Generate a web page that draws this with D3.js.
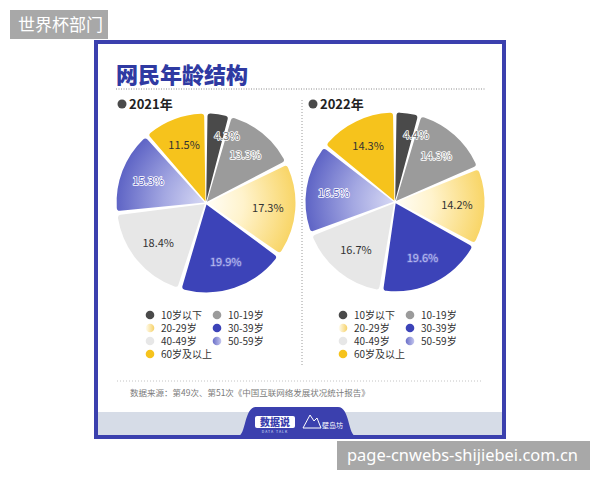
<!DOCTYPE html>
<html>
<head>
<meta charset="utf-8">
<script src="https://cdn.jsdelivr.net/npm/d3@7"></script>
<style>
  body { margin: 0; background: #fff; }
  svg { display: block; font-family: "Noto Sans CJK SC", "Noto Sans", sans-serif; }
</style>
</head>
<body>
<div id="chart"></div>
<script>
// age structure of netizens, 2021 vs 2022
const ageGroups = ["10岁以下", "10-19岁", "20-29岁", "30-39岁", "40-49岁", "50-59岁", "60岁及以上"];
const share2021 = [4.3, 13.3, 17.3, 19.9, 18.4, 15.3, 11.5];
const share2022 = [4.4, 14.3, 14.2, 19.6, 16.7, 16.5, 14.3];
const years = ["2021年", "2022年"];

const width = 600, height = 480;
const blue = "#3b40ae";

const sliceFill = ["#4a4a4a", "#9b9b9b", "url(#g2029)", "#3c43b8", "#e7e7e7", "url(#g5059)", "#f6c31c"];
const legendFill = ["#4a4a4a", "#9b9b9b", "url(#l2029)", "#3c43b8", "#e7e7e7", "url(#l5059)", "#f6c31c"];
// label colours: [fill, stroke]
const labelStyle = [
    ["#6e6e6e", "#fff"], ["#8c8c8c", "#fff"], ["#333", null], ["#b9bdf0", "#5a60c6"],
    ["#333", null], ["#5a60c0", "#fff"], ["#333", null]
];

const svg = d3.select("#chart").append("svg")
    .attr("width", width)
    .attr("height", height);

const defs = svg.append("defs");

// radial gradients in slice space (pie centered at 0,0)
const rg1 = defs.append("radialGradient").attr("id", "g2029")
    .attr("gradientUnits", "userSpaceOnUse").attr("cx", 0).attr("cy", 0).attr("r", 90);
rg1.append("stop").attr("offset", "0").attr("stop-color", "#fffdf6");
rg1.append("stop").attr("offset", "0.4").attr("stop-color", "#fff3cc");
rg1.append("stop").attr("offset", "1").attr("stop-color", "#f8d463");

const rg2 = defs.append("radialGradient").attr("id", "g5059")
    .attr("gradientUnits", "userSpaceOnUse").attr("cx", 0).attr("cy", 0).attr("r", 90);
rg2.append("stop").attr("offset", "0").attr("stop-color", "#d6d8f4");
rg2.append("stop").attr("offset", "0.45").attr("stop-color", "#a4a8e2");
rg2.append("stop").attr("offset", "1").attr("stop-color", "#5b61c4");

const lg1 = defs.append("linearGradient").attr("id", "l2029");
lg1.append("stop").attr("offset", "0").attr("stop-color", "#fffdf3");
lg1.append("stop").attr("offset", "1").attr("stop-color", "#f6d166");
const lg2 = defs.append("linearGradient").attr("id", "l5059");
lg2.append("stop").attr("offset", "0").attr("stop-color", "#6a6fc8");
lg2.append("stop").attr("offset", "1").attr("stop-color", "#c4c6ee");

// top-left tag
svg.append("rect").attr("x", 10).attr("y", 10).attr("width", 98).attr("height", 29).attr("fill", "#a8a8a8");
svg.append("text").attr("x", 18).attr("y", 31).attr("fill", "#fff")
    .attr("font-size", 17).text("世界杯部门");

// card frame
svg.append("rect").attr("x", 96).attr("y", 42).attr("width", 408).attr("height", 395)
    .attr("fill", "#fff").attr("stroke", blue).attr("stroke-width", 4);
svg.append("rect").attr("x", 98).attr("y", 412).attr("width", 404).attr("height", 23).attr("fill", "#d6dce7");

// title
svg.append("text").attr("x", 116).attr("y", 83).attr("fill", "#2f3aa2")
    .attr("font-size", 22).attr("font-weight", 900).text("网民年龄结构");
svg.append("line").attr("x1", 116).attr("x2", 486).attr("y1", 89).attr("y2", 89)
    .attr("stroke", "#8a8a8a").attr("stroke-dasharray", "1,1.5");

// divider
svg.append("line").attr("x1", 302).attr("x2", 302).attr("y1", 100).attr("y2", 367)
    .attr("stroke", "#9a9a9a").attr("stroke-dasharray", "1,2");

const pie = d3.pie().sort(null).value(d => d);
const radius = 88;
const arc = d3.arc().innerRadius(0).outerRadius(radius).padAngle(0.03).cornerRadius(3);
const labelArc = d3.arc().innerRadius(62).outerRadius(62);
const smallArc = d3.arc().innerRadius(68).outerRadius(68);

const panels = [
    { data: share2021, year: years[0], cx: 206, cy: 203, headX: 122, legX: 150 },
    { data: share2022, year: years[1], cx: 395, cy: 202, headX: 313, legX: 343 }
];

panels.forEach(p => {
    // year heading
    svg.append("circle").attr("cx", p.headX).attr("cy", 104).attr("r", 4.5).attr("fill", "#4a4a4a");
    svg.append("text").attr("x", p.headX + 7).attr("y", 109).attr("font-size", 13)
        .attr("font-weight", 700).attr("fill", "#222").text(p.year);

    const g = svg.append("g").attr("transform", `translate(${p.cx},${p.cy})`);
    const arcs = pie(p.data);

    g.selectAll("path")
        .data(arcs)
        .join("path")
        .attr("transform", d => {
            const a = (d.startAngle + d.endAngle) / 2;
            return `translate(${Math.sin(a) * 1.5},${-Math.cos(a) * 1.5})`;
        })
        .attr("d", arc)
        .attr("fill", (d, i) => sliceFill[i]);

    g.selectAll("text.pct")
        .data(arcs)
        .join("text")
        .attr("class", "pct")
        .each(function(d, i) {
            const small = d.value < 6;
            const c = small ? smallArc.centroid(d) : labelArc.centroid(d);
            const st = labelStyle[i];
            const t = d3.select(this)
                .attr("x", c[0] - (small ? 1 : 0))
                .attr("y", c[1] + 4)
                .attr("text-anchor", small ? "start" : "middle")
                .attr("font-size", 11)
                .attr("fill", st[0])
                .text(d.value.toFixed(1) + "%");
            if (st[1]) {
                t.attr("stroke", st[1]).attr("stroke-width", 1.6)
                    .attr("paint-order", "stroke").attr("stroke-linejoin", "round");
            }
        });

    // legend
    const leg = svg.append("g").attr("transform", `translate(${p.legX},315)`);
    const items = leg.selectAll("g")
        .data(ageGroups)
        .join("g")
        .attr("transform", (d, i) => `translate(${(i % 2) * 67},${Math.floor(i / 2) * 13})`);
    items.append("circle").attr("r", 4.3).attr("fill", (d, i) => legendFill[i]);
    items.append("text").attr("x", 11).attr("y", 3.6).attr("font-size", 10)
        .attr("fill", "#333").text(d => d);
});

// source note
svg.append("line").attr("x1", 117).attr("x2", 482).attr("y1", 381).attr("y2", 381)
    .attr("stroke", "#c4c4c4").attr("stroke-dasharray", "1,2");
svg.append("text").attr("x", 130).attr("y", 396).attr("font-size", 8.5).attr("fill", "#7a7a7a")
    .text("数据来源：第49次、第51次《中国互联网络发展状况统计报告》");

// bottom tab with logos
svg.append("path")
    .attr("d", "M238,436 C246,436 244,407 256,407 L338,407 C350,407 348,436 356,436 Z")
    .attr("fill", blue);
svg.append("rect").attr("x", 255).attr("y", 416).attr("width", 40).attr("height", 12).attr("rx", 2)
    .attr("fill", "#fff");
svg.append("text").attr("x", 275).attr("y", 426).attr("text-anchor", "middle").attr("font-size", 10)
    .attr("font-weight", 900).attr("fill", blue).text("数据说");
svg.append("text").attr("x", 275).attr("y", 433).attr("text-anchor", "middle").attr("font-size", 3.5)
    .attr("fill", "#dfe2ff").attr("letter-spacing", 1).text("DATA TALK");
svg.append("path").attr("d", "M303,428 L310,415 L314,421 L317,418 L321,428 Z")
    .attr("fill", "none").attr("stroke", "#fff").attr("stroke-width", 1);
svg.append("text").attr("x", 322).attr("y", 428).attr("font-size", 7).attr("fill", "#fff").text("壁岛坊");

// bottom-right watermark
svg.append("rect").attr("x", 337).attr("y", 441).attr("width", 253).attr("height", 29).attr("fill", "#a8a8a8");
svg.append("text").attr("x", 347).attr("y", 461).attr("fill", "#fff").attr("font-size", 16)
    .attr("font-family", "'Noto Sans', sans-serif")
    .attr("textLength", 231).attr("lengthAdjust", "spacingAndGlyphs")
    .text("page-cnwebs-shijiebei.com.cn");
</script>
</body>
</html>
